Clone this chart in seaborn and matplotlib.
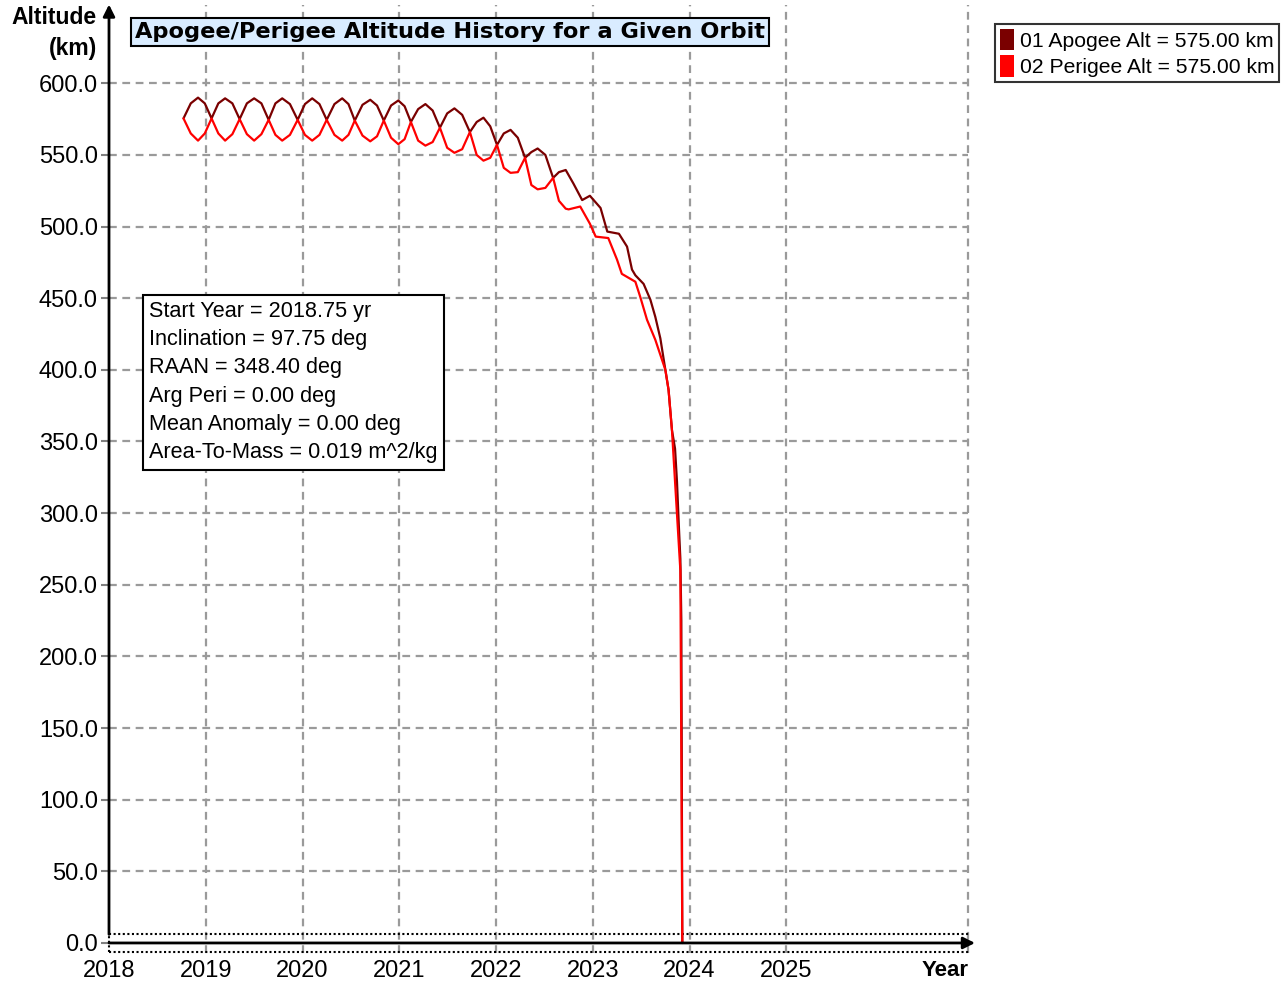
import pandas as pd
import matplotlib
matplotlib.use('Agg')
import matplotlib.pyplot as plt
import seaborn as sns
from matplotlib.patches import Patch

# Decimal year of each reading while the two curves share the same samples
orbit_year = [2018.77, 2018.845, 2018.92, 2018.99, 2019.06, 2019.13, 2019.20, 2019.275,
              2019.35, 2019.425, 2019.50, 2019.575, 2019.65, 2019.72, 2019.79, 2019.87,
              2019.95, 2020.025, 2020.10, 2020.175, 2020.25, 2020.33, 2020.41, 2020.475,
              2020.54, 2020.62, 2020.70, 2020.77, 2020.84, 2020.915, 2020.99, 2021.055,
              2021.12, 2021.195, 2021.27, 2021.345, 2021.42, 2021.495, 2021.57, 2021.65,
              2021.73, 2021.80, 2021.87, 2021.94, 2022.01, 2022.08, 2022.15, 2022.225,
              2022.30, 2022.365, 2022.43, 2022.51, 2022.59, 2022.65, 2022.72]

# Apogee / perigee altitude (km) at those years
apogee_alt = [575.5, 586, 590, 586, 575.5, 586, 589.5, 586,
              575, 586, 589.5, 586, 574.5, 586, 589.5, 585.5,
              574.5, 585.5, 589.5, 585.5, 574.5, 585.5, 589.5, 585.5,
              574, 585, 588.5, 584.5, 574, 584.5, 588, 584,
              573, 582, 585.5, 581, 569, 579, 582.5, 578,
              566, 573, 576, 570, 557, 565, 567.5, 562,
              548, 552, 554.5, 550, 534, 538, 539.5]
perigee_alt = [575.5, 565, 560, 565, 575.5, 565, 560, 564.5,
               575, 564.5, 560, 564.5, 574.5, 564, 560, 564,
               574.5, 564, 560, 564, 574.5, 564, 560, 564,
               574, 563.5, 559.5, 563, 574, 562, 557.5, 561,
               573, 560, 556.5, 559, 569, 555, 551.5, 554,
               566, 550, 546, 548, 557, 541, 537.5, 538,
               548, 529, 526, 527, 534, 518, 512.5]

# Final decay, read separately for each curve
apogee_tail_year = [2022.80, 2022.89, 2022.97, 2023.08, 2023.15, 2023.27, 2023.354, 2023.405,
                    2023.44, 2023.525, 2023.595, 2023.646, 2023.698, 2023.75, 2023.783,
                    2023.818, 2023.85, 2023.87, 2023.89, 2023.905, 2023.915, 2023.925]
apogee_tail_alt = [530, 518.5, 521.5, 513, 496.5, 495, 486, 470,
                   466, 460, 449, 437, 422, 400, 386,
                   358, 345, 322, 290, 268, 225, 0]
perigee_tail_year = [2022.75, 2022.87, 2022.97, 2023.03, 2023.16, 2023.25, 2023.30, 2023.44,
                     2023.49, 2023.56, 2023.646, 2023.75, 2023.783, 2023.818, 2023.905, 2023.925]
perigee_tail_alt = [512, 514, 502, 493, 492, 477, 467, 461.5,
                    451, 435, 421, 400, 386, 358, 260, 0]

series_labels = ['01 Apogee Alt = 575.00 km', '02 Perigee Alt = 575.00 km']
series_colors = ['#7a0000', '#ff0000']
year_ticks = [2018, 2019, 2020, 2021, 2022, 2023, 2024, 2025]
alt_ticks = [0, 50, 100, 150, 200, 250, 300, 350, 400, 450, 500, 550, 600]
info_lines = ['Start Year = 2018.75 yr', 'Inclination = 97.75 deg', 'RAAN = 348.40 deg',
              'Arg Peri = 0.00 deg', 'Mean Anomaly = 0.00 deg', 'Area-To-Mass = 0.019 m^2/kg']

apo = pd.DataFrame({'year': orbit_year + apogee_tail_year,
                    'alt': apogee_alt + apogee_tail_alt, 'series': series_labels[0]})
peri = pd.DataFrame({'year': orbit_year + perigee_tail_year,
                     'alt': perigee_alt + perigee_tail_alt, 'series': series_labels[1]})
df = pd.concat([apo, peri], ignore_index=True)

sns.set_style('white')
plt.rcParams['font.family'] = ['Liberation Sans', 'DejaVu Sans']
plt.rcParams['text.color'] = 'black'

fig = plt.figure(figsize=(12.88, 9.84), dpi=100)
ax = fig.add_axes([109 / 1288, 31 / 984, 866 / 1288, 948.5 / 984])
ax.set_xlim(2018, 2026.95)
ax.set_ylim(-7, 655)

# Dashed grey grid
grid_kw = dict(color='#9a9a9a', linestyle=(0, (3.5, 2.5)), linewidth=1.6, zorder=0)
for v in alt_ticks[1:]:
    ax.axhline(v, xmax=(2026.88 - 2018) / 8.95, **grid_kw)
for v in year_ticks[1:] + [2026.88]:
    ax.axvline(v, **grid_kw)

sns.lineplot(data=df, x='year', y='alt', hue='series', palette=dict(zip(series_labels, series_colors)),
             sort=False, estimator=None, legend=False, linewidth=1.6, ax=ax, zorder=3)

for s in ax.spines.values():
    s.set_visible(False)

# Axis lines with arrow heads, plus the dotted band around zero
arrow = dict(arrowstyle='-|>,head_width=0.35,head_length=0.7', color='black', lw=2,
             shrinkA=0, shrinkB=0)
ax.annotate('', xy=(2018, 655), xytext=(2018, 6), arrowprops=arrow, annotation_clip=False)
ax.annotate('', xy=(2026.95, 0), xytext=(2018, 0), arrowprops=arrow, annotation_clip=False)
for y in (6, -6):
    ax.plot([2018, 2026.9], [y, y], color='black', linestyle=(0, (1, 1.2)), lw=1.5, clip_on=False)
ax.plot([2018, 2018], [-6, 6], color='black', linestyle=(0, (1, 1.2)), lw=1.5, clip_on=False)

ax.set_yticks(alt_ticks)
ax.set_yticklabels([f'{v:.1f}' for v in alt_ticks])
ax.set_xticks(year_ticks)
ax.set_xticklabels([str(v) for v in year_ticks])
ax.tick_params(axis='y', length=6, width=1.5, color='#808080', labelcolor='black', pad=2,
               labelsize=17, left=True)
ax.tick_params(axis='x', length=0, pad=5, labelsize=17, labelcolor='black')
ax.set_xlabel('')
ax.set_ylabel('')

fig.text(945 / 1288, 1 - 970 / 984, 'Year', ha='center', va='center', fontsize=16, fontweight='bold')
fig.text(97 / 1288, 1 - 18 / 984, 'Altitude', ha='right', va='center', fontsize=16.5, fontweight='bold')
fig.text(97 / 1288, 1 - 48 / 984, '(km)', ha='right', va='center', fontsize=16.5, fontweight='bold')

fig.text(450 / 1288, 1 - 32 / 984, 'Apogee/Perigee Altitude History for a Given Orbit',
         ha='center', va='center', fontsize=16.2, fontweight='bold', family='DejaVu Sans',
         bbox=dict(boxstyle='square,pad=0.17', facecolor='#d9ecff', edgecolor='black', lw=1.5))

fig.text(149 / 1288, 1 - 301 / 984, '\n'.join(info_lines), ha='left', va='top', fontsize=15.6,
         linespacing=1.45,
         bbox=dict(boxstyle='square,pad=0.3', facecolor='white', edgecolor='black', lw=1.5))

handles = [Patch(facecolor=c, edgecolor='none', label=l) for c, l in zip(series_colors, series_labels)]
leg = fig.legend(handles=handles, loc='upper left', bbox_to_anchor=(995 / 1288, 1 - 24 / 984),
                 frameon=True, fancybox=False, edgecolor='black', fontsize=15.2,
                 handlelength=0.7, handleheight=1.2, handletextpad=0.25, borderpad=0.22,
                 labelspacing=0.22, borderaxespad=0)
leg.get_frame().set_linewidth(1.5)

fig.savefig('out.png', dpi=100)
